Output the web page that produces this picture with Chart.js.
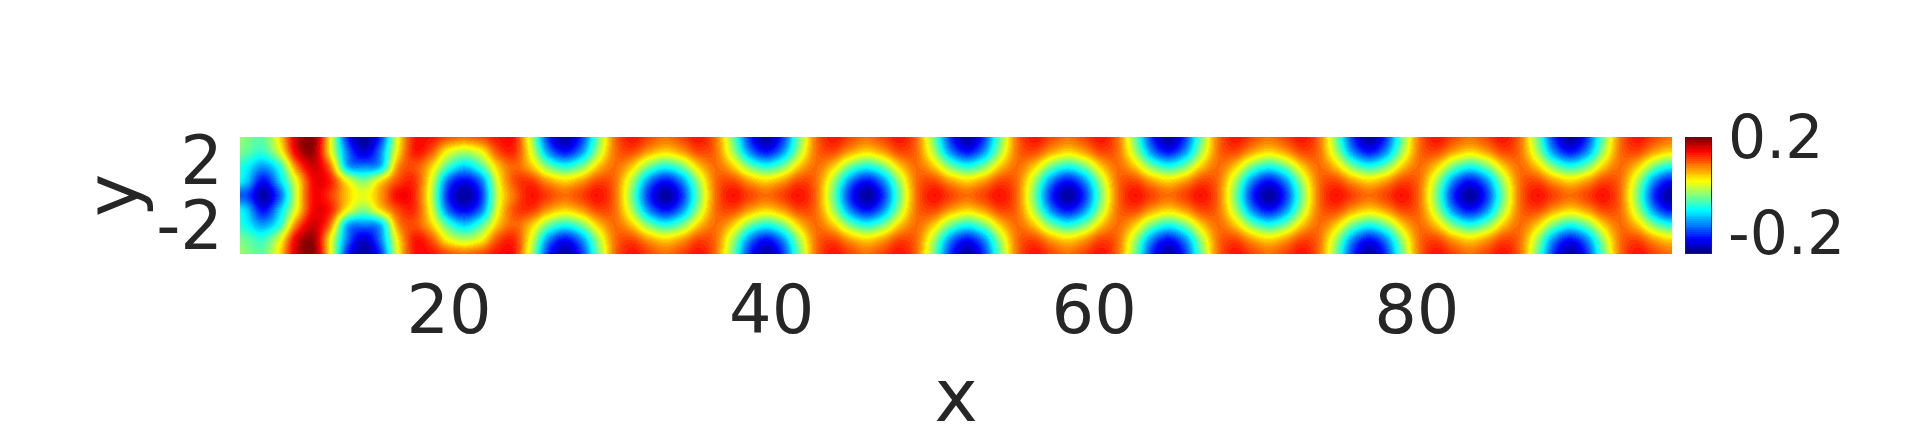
<!DOCTYPE html>
<html>
<head>
<meta charset="utf-8">
<style>
html,body{margin:0;padding:0;background:#fff;width:1914px;height:426px;overflow:hidden}
canvas{position:absolute;left:0;top:0}
</style>
<script src="https://cdn.jsdelivr.net/npm/chart.js@4"></script>
</head>
<body>
<canvas id="main" width="1914" height="426"></canvas>
<canvas id="cbar" width="1914" height="426"></canvas>
<script>
const xTicks=[20,40,60,80];
const yTicks=[-2,2];
const cbarTicks=[-0.2,0.2];
const xLabel='x';
const yLabel='y';
const xNodes=[6.386,7.425,8.464,9.503,10.542,11.581,12.62,13.659,14.698,15.737,16.776,17.815,18.854,19.893,20.932,21.971,23.01,24.049,25.088,26.127,27.166,28.205,29.244,30.283,31.322,32.361,33.4,34.439,35.478,36.517,37.556,38.595,39.634,40.673,41.712,42.751,43.79,44.829,45.868,46.907,47.946,48.985,50.024,51.063,52.102,53.141,54.18,55.219,56.258,57.297,58.336,59.375,60.414,61.453,62.492,63.531,64.57,65.609,66.648,67.687,68.726,69.765,70.804,71.843,72.882,73.921,74.96,75.999,77.038,78.077,79.116,80.155,81.194,82.233,83.272,84.311,85.35,86.389,87.428,88.467,89.506,90.545,91.584,92.623,93.662,94.701,95.74,96.779];
const yNodes=[-3.6,-2.7,-1.8,-0.9,0,0.9,1.8,2.7,3.6];
const rowY00=[-.178,-.188,-.266,-.178,.006,.137,.113,.045,.006,.064,.137,.122,-.004,-.203,-.270,-.203,-.004,.088,.132,.108,
.087,.108,.132,.087,-.046,-.201,-.269,-.201,-.046,.087,.132,.108,
.087,.108,.132,.087,-.046,-.201,-.269,-.201,-.046,.087,.132,.108,
.087,.108,.132,.087,-.046,-.201,-.269,-.201,-.046,.087,.132,.108,
.087,.108,.132,.087,-.046,-.201,-.269,-.201,-.046,.087,.132,.108,
.087,.108,.132,.087,-.046,-.201,-.269,-.201,-.046,.087,.132,.108,
.087,.108,.132,.087,-.046,-.201,-.269,-.201];
const rowY09=[-.081,-.125,-.222,-.125,.016,.142,.127,.016,-.043,.030,.103,.118,.011,-.169,-.227,-.169,.011,.103,.113,.064,
.035,.063,.106,.087,-.020,-.156,-.217,-.156,-.020,.087,.106,.063,
.035,.063,.106,.087,-.020,-.156,-.217,-.156,-.020,.087,.106,.063,
.035,.063,.106,.087,-.020,-.156,-.217,-.156,-.020,.087,.106,.063,
.035,.063,.106,.087,-.020,-.156,-.217,-.156,-.020,.087,.106,.063,
.035,.063,.106,.087,-.020,-.156,-.217,-.156,-.020,.087,.106,.063,
.035,.063,.106,.087,-.020,-.156,-.217,-.156];
const rowY18=[-.067,-.101,-.149,-.081,.084,.161,.084,-.135,-.164,-.135,.064,.103,.045,-.067,-.125,-.067,.045,.093,.045,-.047,
-.091,-.046,.043,.087,.043,-.046,-.091,-.046,.043,.087,.043,-.046,
-.091,-.046,.043,.087,.043,-.046,-.091,-.046,.043,.087,.043,-.046,
-.091,-.046,.043,.087,.043,-.046,-.091,-.046,.043,.087,.043,-.046,
-.091,-.046,.043,.087,.043,-.046,-.091,-.046,.043,.087,.043,-.046,
-.091,-.046,.043,.087,.043,-.046,-.091,-.046,.043,.087,.043,-.046,
-.091,-.046,.043,.087,.043,-.046,-.091,-.046];
const rowY27=[-.028,-.057,-.076,.006,.152,.185,.021,-.164,-.246,-.164,.021,.127,.103,.016,-.018,.016,.103,.118,.006,-.154,
-.217,-.156,-.020,.087,.106,.063,.035,.063,.106,.087,-.020,-.156,
-.217,-.156,-.020,.087,.106,.063,.035,.063,.106,.087,-.020,-.156,
-.217,-.156,-.020,.087,.106,.063,.035,.063,.106,.087,-.020,-.156,
-.217,-.156,-.020,.087,.106,.063,.035,.063,.106,.087,-.020,-.156,
-.217,-.156,-.020,.087,.106,.063,.035,.063,.106,.087,-.020,-.156,
-.217,-.156,-.020,.087,.106,.063,.035,.063];
const rowY36=[-.004,-.043,-.057,.035,.166,.195,.021,-.203,-.270,-.203,.006,.127,.132,.103,.088,.103,.132,.127,-.018,-.203,
-.269,-.201,-.046,.087,.132,.108,.087,.108,.132,.087,-.046,-.201,
-.269,-.201,-.046,.087,.132,.108,.087,.108,.132,.087,-.046,-.201,
-.269,-.201,-.046,.087,.132,.108,.087,.108,.132,.087,-.046,-.201,
-.269,-.201,-.046,.087,.132,.108,.087,.108,.132,.087,-.046,-.201,
-.269,-.201,-.046,.087,.132,.108,.087,.108,.132,.087,-.046,-.201,
-.269,-.201,-.046,.087,.132,.108,.087,.108];
const cbarX=[0,1];
const cbarLevels=[-0.285,-0.25,-0.2,-0.15,-0.1,-0.05,0,0.05,0.1,0.15,0.2];
const vMin=-0.285, vMax=0.2;

const TEXT='#262626', FONT='"DejaVu Sans"';

function jet(v){
  let f=(v-vMin)/(vMax-vMin);
  f=Math.min(63,Math.max(0,Math.floor(f*64)));
  f=(f+0.5)/64;
  const c=t=>Math.round(255*Math.min(1,Math.max(0,1.5-Math.abs(4*f-t))));
  return [c(3),c(2),c(1)];
}
function cr(a,b,c,d,t){return 0.5*(2*b+(c-a)*t+(2*a-5*b+4*c-d)*t*t+(3*b-a-3*c+d)*t*t*t);}
function locate(nodes,val){
  let i=0;
  while(i<nodes.length-2&&nodes[i+1]<=val)i++;
  return [i,(val-nodes[i])/(nodes[i+1]-nodes[i])];
}
class HeatController extends Chart.ScatterController{
  draw(){
    const meta=this.getMeta(), ds=this.getDataset(), xs=meta.xScale, ys=meta.yScale, ctx=this.chart.ctx;
    const X=ds.gridX, Y=ds.gridY, at=(c,r)=>{
      c=Math.max(0,Math.min(X.length-1,c)); r=Math.max(0,Math.min(Y.length-1,r));
      return ds.data[r*X.length+c].v;
    };
    const L=Math.round(xs.left), R=Math.round(xs.right), T=Math.round(ys.top), B=Math.round(ys.bottom);
    const w=R-L, h=B-T, img=ctx.createImageData(w,h);
    for(let py=0;py<h;py++){
      const [r,tr]=locate(Y,ys.getValueForPixel(T+py+0.5));
      for(let px=0;px<w;px++){
        const [c,tc]=locate(X,xs.getValueForPixel(L+px+0.5));
        const col=[-1,0,1,2].map(k=>cr(at(c-1,r+k),at(c,r+k),at(c+1,r+k),at(c+2,r+k),tc));
        const v=cr(col[0],col[1],col[2],col[3],tr);
        const rgb=jet(v), o=(py*w+px)*4;
        img.data[o]=rgb[0];img.data[o+1]=rgb[1];img.data[o+2]=rgb[2];img.data[o+3]=255;
      }
    }
    ctx.putImageData(img,L,T);
    if(ds.outline){ctx.save();ctx.strokeStyle=ds.outline;ctx.lineWidth=1;ctx.strokeRect(L+0.5,T+0.5,w-1,h-1);ctx.restore();}
  }
}
HeatController.id='heatmap';
HeatController.defaults=Chart.ScatterController.defaults;
HeatController.overrides=Chart.ScatterController.overrides;
Chart.register(HeatController);

function cells(X,Y,rows){
  const out=[];
  Y.forEach((y,r)=>X.forEach((x,c)=>out.push({x,y,v:rows[r][c]})));
  return out;
}
const mainRows=[rowY36,rowY27,rowY18,rowY09,rowY00,rowY09,rowY18,rowY27,rowY36];
const tickFont={family:FONT,size:67};
const cbarFont={family:FONT,size:60};

new Chart(document.getElementById('main'),{
  type:'heatmap',
  data:{datasets:[{data:cells(xNodes,yNodes,mainRows),gridX:xNodes,gridY:yNodes,pointRadius:0,showLine:false}]},
  options:{
    responsive:false,animation:false,
    layout:{padding:{left:0,top:137,right:242,bottom:0}},
    plugins:{legend:{display:false},tooltip:{enabled:false}},
    scales:{
      x:{type:'linear',min:7.04,max:95.82,
        afterBuildTicks:s=>{s.ticks=xTicks.map(value=>({value}));},
        afterFit:s=>{s.height=172;},
        grid:{display:false},border:{display:false},
        ticks:{font:tickFont,color:TEXT,padding:13,maxRotation:0,autoSkip:false},
        title:{display:true,text:xLabel,color:TEXT,font:{family:FONT,size:73},padding:{top:0,bottom:-20}}},
      y:{type:'linear',min:-3.6,max:3.6,
        afterBuildTicks:s=>{s.ticks=yTicks.map(value=>({value}));},
        afterFit:s=>{s.width=240;},
        grid:{display:false},border:{display:false},
        ticks:{font:tickFont,color:TEXT,padding:9,autoSkip:false,labelOffset:4},
        title:{display:true,text:yLabel,color:TEXT,font:{family:FONT,size:73},padding:{top:75,bottom:0}}}
    }
  }
});

new Chart(document.getElementById('cbar'),{
  type:'heatmap',
  data:{datasets:[{data:cells(cbarX,cbarLevels,cbarLevels.map(l=>[l,l])),gridX:cbarX,gridY:cbarLevels,outline:TEXT,pointRadius:0,showLine:false}]},
  options:{
    responsive:false,animation:false,
    layout:{padding:{left:1685,top:137,right:0,bottom:172}},
    plugins:{legend:{display:false},tooltip:{enabled:false}},
    scales:{
      x:{type:'linear',min:0,max:1,display:false},
      y:{type:'linear',position:'right',min:vMin,max:vMax,
        afterBuildTicks:s=>{s.ticks=cbarTicks.map(value=>({value}));},
        afterFit:s=>{s.width=202;},
        grid:{display:false},border:{display:false},
        ticks:{font:cbarFont,color:TEXT,padding:8,autoSkip:false,labelOffset:5}}
    }
  }
});
</script>
</body>
</html>
